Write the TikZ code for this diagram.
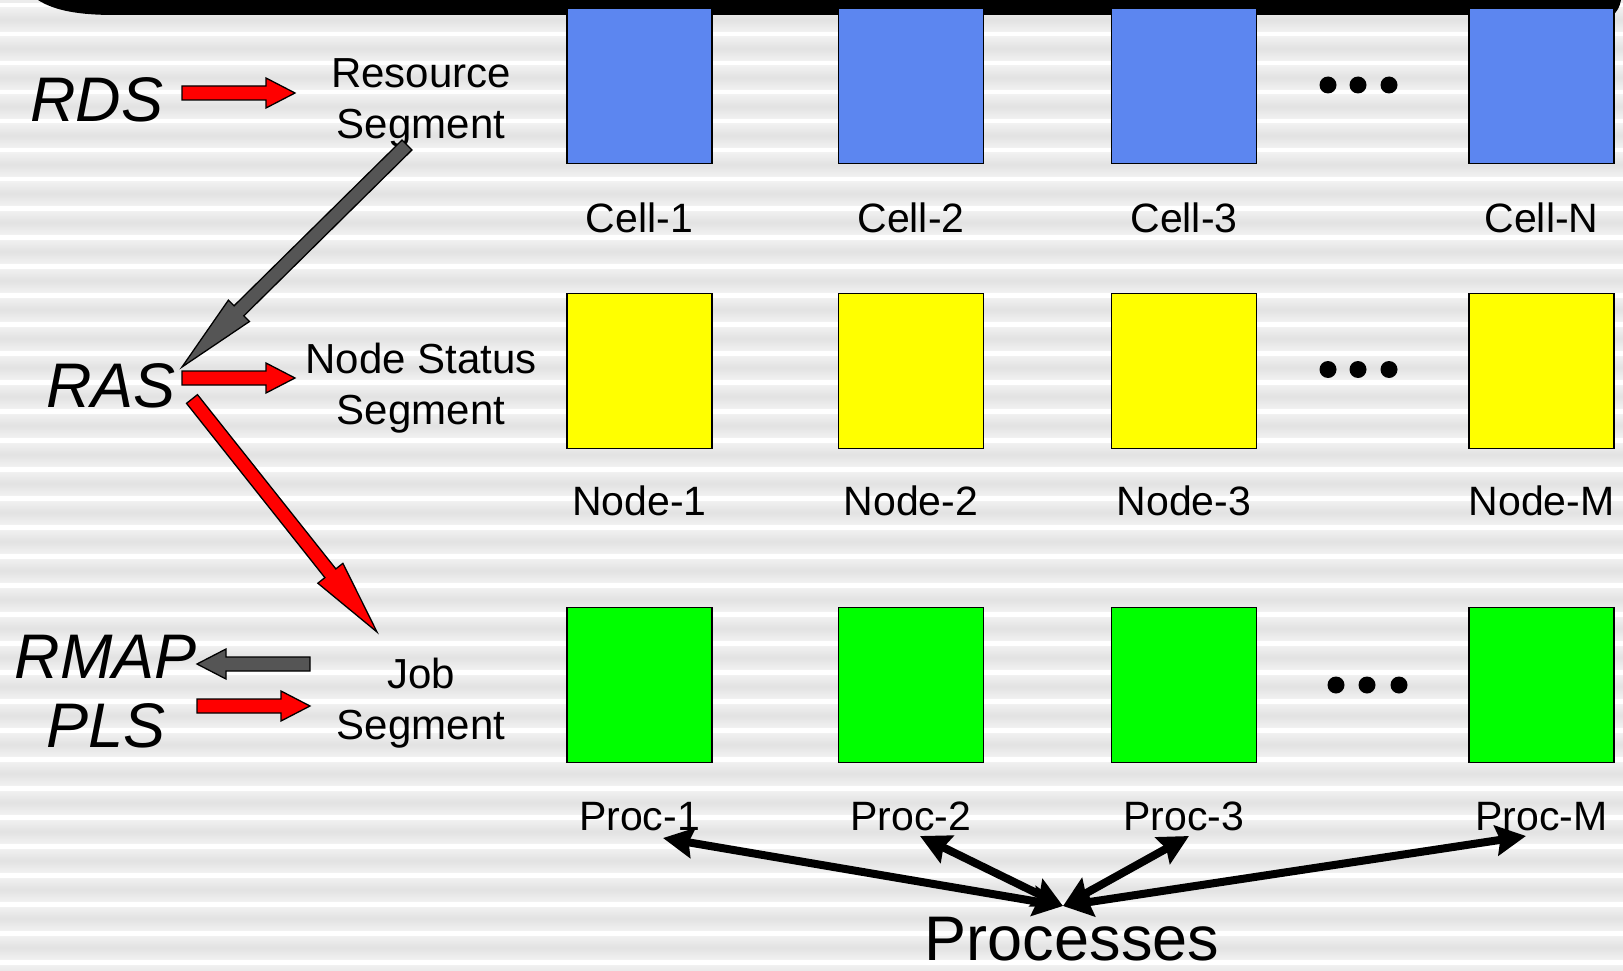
\documentclass[tikz,border=0pt]{standalone}
\usepackage{fontspec}
\setmainfont{Liberation Sans}
\usetikzlibrary{calc,arrows.meta}

\definecolor{cellblue}{RGB}{92,134,240}
\definecolor{nodeyellow}{RGB}{255,255,0}
\definecolor{procgreen}{RGB}{0,255,0}
\definecolor{flowred}{RGB}{255,0,0}
\definecolor{flowgrey}{RGB}{85,85,85}
\definecolor{bgbase}{RGB}{236,236,236}
\definecolor{bgdark}{RGB}{226,226,226}
\definecolor{bglight}{RGB}{242,242,242}

\tikzset{
  unitbox/.style={draw=black, line width=1.8pt, inner sep=0pt,
    minimum width=145pt, minimum height=155pt},
  cellbox/.style={unitbox, fill=cellblue},
  statusbox/.style={unitbox, fill=nodeyellow},
  procbox/.style={unitbox, fill=procgreen},
  lbl/.style={font=\fontsize{41}{49}\selectfont, anchor=base, inner sep=0pt},
  seglbl/.style={font=\fontsize{42}{51}\selectfont, anchor=base, inner sep=0pt, align=center},
  svc/.style={font=\fontsize{63}{69}\selectfont\itshape, anchor=base, inner sep=0pt},
  bigtitle/.style={font=\fontsize{63}{69}\selectfont, anchor=base, inner sep=0pt},
  redflow/.style={fill=flowred, draw=black, line width=1.3pt, line join=miter},
  greyflow/.style={fill=flowgrey, draw=black, line width=1.3pt, line join=miter},
  link/.style={line width=8pt,
    {Stealth[length=30pt,width=30pt,inset=4pt]}-{Stealth[length=30pt,width=30pt,inset=4pt]}},
  ellipsisdot/.style={fill=black},
}

% block arrow: style, tail, tip, head length, body half-width, head half-width
\newcommand{\blockarrow}[6]{%
  \coordinate (hb) at ($(#3)!#4!(#2)$);
  \filldraw[#1] ($(#2)!#5!90:(#3)$) -- ($(hb)!#5!-90:(#2)$) -- ($(hb)!#6!-90:(#2)$)
    -- (#3) -- ($(hb)!#6!90:(#2)$) -- ($(hb)!#5!90:(#2)$) -- ($(#2)!#5!-90:(#3)$) -- cycle;
}

\begin{document}
\begin{tikzpicture}[x=1pt,y=-1pt]
\useasboundingbox (0,0) rectangle (1623,971);

% striped backdrop
\fill[bgbase] (0,0) rectangle (1623,971);
\foreach \k in {0,...,33}{
  \pgfmathsetmacro{\yy}{3+29*\k}
  \shade[top color=bglight, bottom color=bglight, middle color=bgdark]
    (0,\yy+4) rectangle (1623,\yy+29);
  \fill[white] (0,\yy) rectangle (1623,\yy+4.5);
}

% title bar
\fill[black] (38,0) .. controls (55,11) and (80,15) .. (115,15) -- (1612,15)
  .. controls (1617,13) and (1620,6) .. (1621,0) -- cycle;

% cell row
\node[cellbox] (cell1) at (639.5,86) {};
\node[cellbox] (cell2) at (911,86) {};
\node[cellbox] (cell3) at (1184,86) {};
\node[cellbox] (celln) at (1541.5,86) {};
\node[lbl] (cell1l) at (639.5,232) {Cell-1};
\node[lbl] (cell2l) at (911,232) {Cell-2};
\node[lbl] (cell3l) at (1184,232) {Cell-3};
\node[lbl] (cellnl) at (1541.5,232) {Cell-N};

% node row
\node[statusbox] (node1) at (639.5,371) {};
\node[statusbox] (node2) at (911,371) {};
\node[statusbox] (node3) at (1184,371) {};
\node[statusbox] (nodem) at (1541.5,371) {};
\node[lbl] (node1l) at (639.5,515) {Node-1};
\node[lbl] (node2l) at (911,515) {Node-2};
\node[lbl] (node3l) at (1184,515) {Node-3};
\node[lbl] (nodeml) at (1541.5,515) {Node-M};

% process row
\node[procbox] (proc1) at (639.5,685) {};
\node[procbox] (proc2) at (911,685) {};
\node[procbox] (proc3) at (1184,685) {};
\node[procbox] (procm) at (1541.5,685) {};
\node[lbl] (proc1l) at (639.5,830) {Proc-1};
\node[lbl] (proc2l) at (911,830) {Proc-2};
\node[lbl] (proc3l) at (1184,830) {Proc-3};
\node[lbl] (procml) at (1541.5,830) {Proc-M};

% ellipses between the third and last column
\foreach \xx in {1328,1358,1389}{
  \fill[ellipsisdot] (\xx,85) circle[radius=8.5];
  \fill[ellipsisdot] (\xx,369.5) circle[radius=8.5];
}
\foreach \xx in {1336,1367,1399}{
  \fill[ellipsisdot] (\xx,685) circle[radius=8.5];
}

% segments and services (base anchor sits on the second line)
\node[seglbl] (resseg) at (421,139) {Resource\\Segment};
\node[seglbl] (statseg) at (421,424) {Node Status\\Segment};
\node[seglbl] (jobseg) at (421,739) {Job\\Segment};
\node[svc] (rds) at (97,122) {RDS};
\node[svc] (ras) at (111,407) {RAS};
\node[svc] (rmap) at (106,678) {RMAP};
\node[svc] (pls) at (106,747) {PLS};
\node[bigtitle] (procs) at (1072,960) {Processes};

% block-arrow end points
\coordinate (rds-out) at (182,93);
\coordinate (res-in) at (295,93);
\coordinate (res-out) at (407,145);
\coordinate (ras-in) at (182,367);
\coordinate (ras-out) at (182,378);
\coordinate (stat-in) at (295,378);
\coordinate (ras-down) at (192,399);
\coordinate (job-in) at (377,632);
\coordinate (job-out) at (310,664);
\coordinate (rmap-in) at (197,664);
\coordinate (pls-out) at (197,706);
\coordinate (job-in2) at (310,706);

\blockarrow{redflow}{rds-out}{res-in}{29pt}{7pt}{15pt}
\blockarrow{greyflow}{res-out}{ras-in}{80pt}{7pt}{15pt}
\blockarrow{redflow}{ras-out}{stat-in}{29pt}{7pt}{15pt}
\blockarrow{redflow}{ras-down}{job-in}{75pt}{7pt}{16pt}
\blockarrow{greyflow}{job-out}{rmap-in}{29pt}{7pt}{15pt}
\blockarrow{redflow}{pls-out}{job-in2}{29pt}{7pt}{15pt}

% processes fan-out
\coordinate (hub) at (1063,906);
\coordinate (p1) at (663,838);
\coordinate (p2) at (920,836);
\coordinate (p3) at (1189,836);
\coordinate (pm) at (1526,836);
\draw[link] (hub) -- (p1);
\draw[link] (hub) -- (p2);
\draw[link] (hub) -- (p3);
\draw[link] (hub) -- (pm);
\end{tikzpicture}
\end{document}
